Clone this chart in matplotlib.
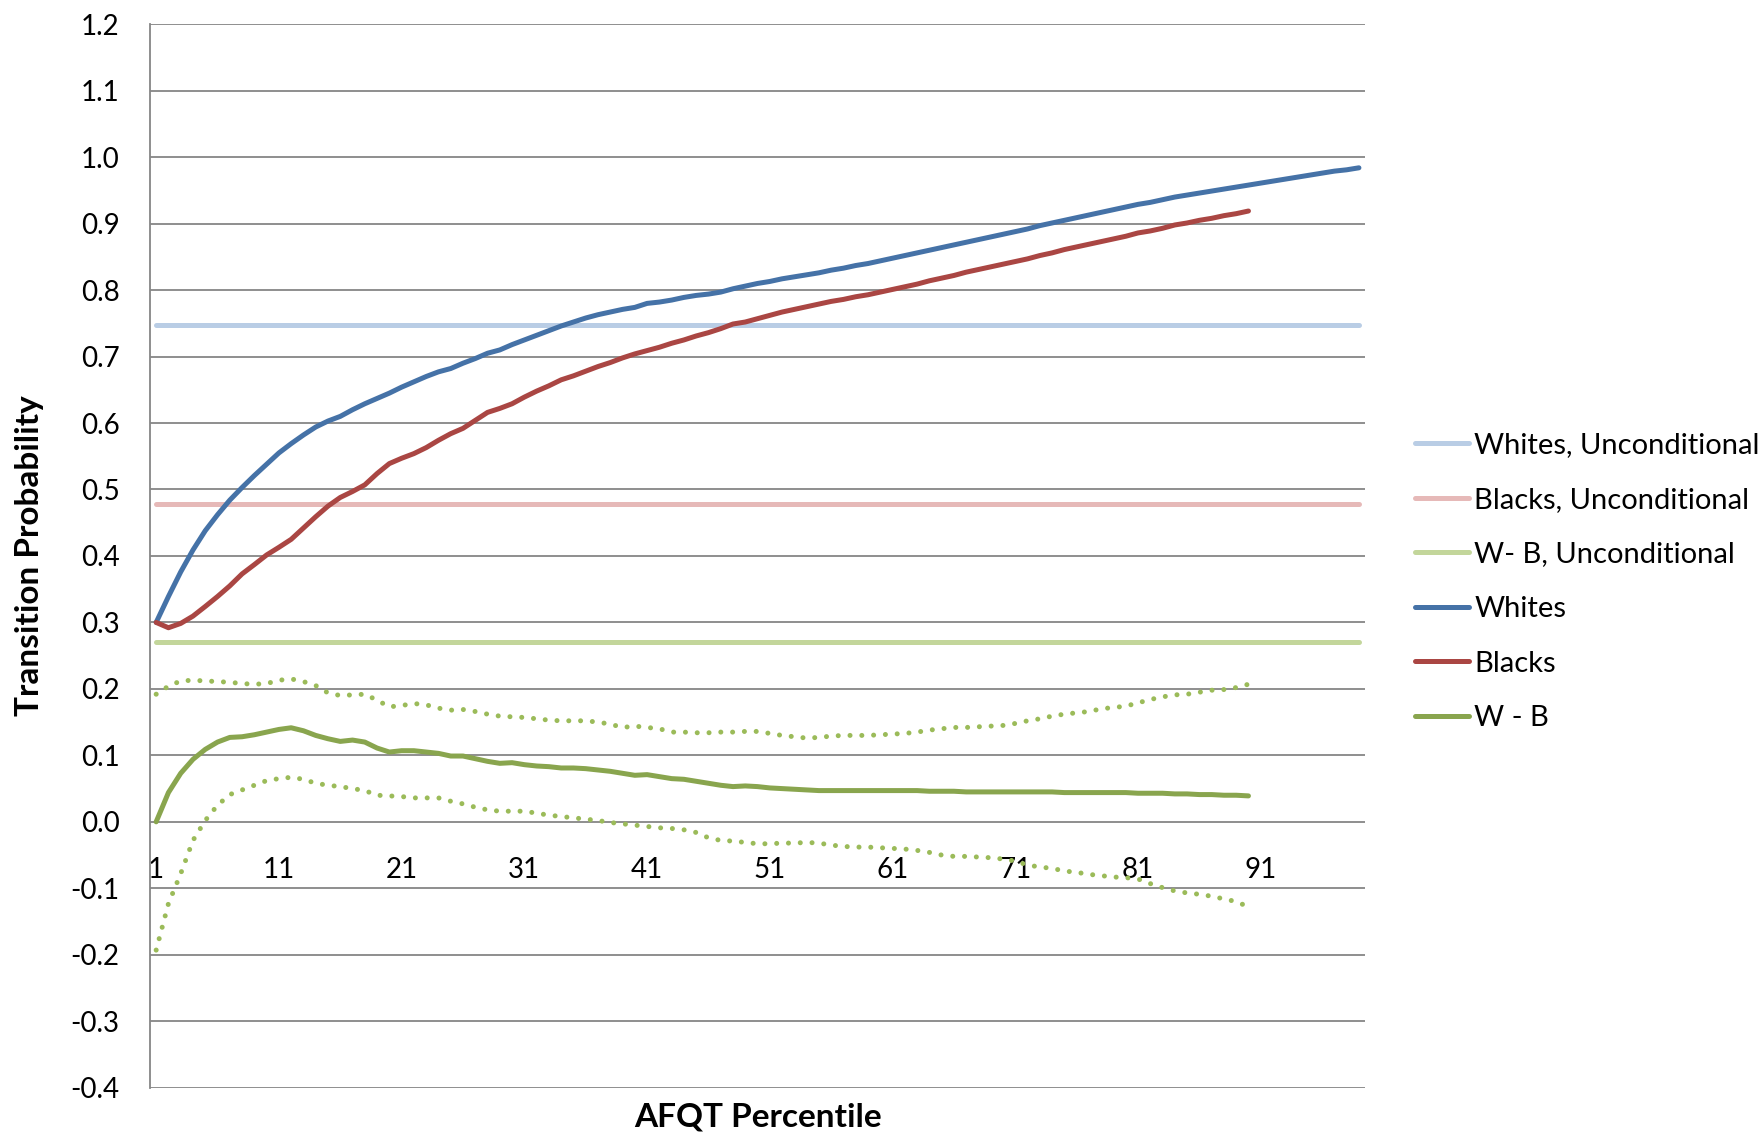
import matplotlib
matplotlib.use("Agg")
import matplotlib.pyplot as plt

plt.rcParams['font.family'] = ['Lato', 'DejaVu Sans']

# AFQT percentile categories (1..99)
percentile = list(range(1, 100))
tick_labels = [1, 11, 21, 31, 41, 51, 61, 71, 81, 91]

# Unconditional transition probabilities
whites_uncond = 0.748
blacks_uncond = 0.478
gap_uncond = 0.270

# Conditional transition probability, whites (percentiles 1..99)
whites = [
    0.300, 0.339, 0.376, 0.409, 0.438, 0.462, 0.484, 0.503, 0.521, 0.538,
    0.555, 0.569, 0.582, 0.594, 0.603, 0.610, 0.620, 0.629, 0.637, 0.645,
    0.654, 0.662, 0.670, 0.677, 0.682, 0.690, 0.697, 0.705, 0.710, 0.718,
    0.725, 0.732, 0.739, 0.746, 0.752, 0.758, 0.763, 0.767, 0.771, 0.774,
    0.780, 0.782, 0.785, 0.789, 0.792, 0.794, 0.797, 0.802, 0.806, 0.810,
    0.813, 0.817, 0.820, 0.823, 0.826, 0.830, 0.833, 0.837, 0.840, 0.844,
    0.848, 0.852, 0.856, 0.860, 0.864, 0.868, 0.872, 0.876, 0.880, 0.884,
    0.888, 0.892, 0.897, 0.901, 0.905, 0.909, 0.913, 0.917, 0.921, 0.925,
    0.929, 0.932, 0.936, 0.940, 0.943, 0.946, 0.949, 0.952, 0.955, 0.958,
    0.961, 0.964, 0.967, 0.970, 0.973, 0.976, 0.979, 0.981, 0.984,
]

# Conditional transition probability, blacks (percentiles 1..90)
blacks = [
    0.300, 0.292, 0.2985, 0.3095, 0.324, 0.339, 0.355, 0.373, 0.387, 0.4015,
    0.413, 0.425, 0.442, 0.459, 0.475, 0.488, 0.497, 0.507, 0.524, 0.539,
    0.547, 0.554, 0.563, 0.574, 0.584, 0.592, 0.604, 0.616, 0.622, 0.629,
    0.639, 0.648, 0.656, 0.665, 0.671, 0.678, 0.685, 0.691, 0.698, 0.704,
    0.709, 0.714, 0.720, 0.725, 0.731, 0.736, 0.742, 0.749, 0.752, 0.757,
    0.762, 0.767, 0.771, 0.775, 0.779, 0.783, 0.786, 0.790, 0.793, 0.797,
    0.801, 0.805, 0.809, 0.814, 0.818, 0.822, 0.827, 0.831, 0.835, 0.839,
    0.843, 0.847, 0.852, 0.856, 0.861, 0.865, 0.869, 0.873, 0.877, 0.881,
    0.886, 0.889, 0.893, 0.898, 0.901, 0.905, 0.908, 0.912, 0.915, 0.919,
]

# White - black difference with confidence band (percentiles 1..90)
gap = [
    0.000, 0.044, 0.073, 0.094, 0.109, 0.120, 0.127, 0.128, 0.131, 0.135,
    0.139, 0.1415, 0.137, 0.130, 0.125, 0.121, 0.123, 0.120, 0.111, 0.105,
    0.107, 0.107, 0.105, 0.103, 0.099, 0.099, 0.095, 0.091, 0.088, 0.089,
    0.086, 0.084, 0.083, 0.081, 0.081, 0.080, 0.078, 0.076, 0.073, 0.070,
    0.071, 0.068, 0.065, 0.064, 0.061, 0.058, 0.055, 0.053, 0.054, 0.053,
    0.051, 0.050, 0.049, 0.048, 0.047, 0.047, 0.047, 0.047, 0.047, 0.047,
    0.047, 0.047, 0.047, 0.046, 0.046, 0.046, 0.045, 0.045, 0.045, 0.045,
    0.045, 0.045, 0.045, 0.045, 0.044, 0.044, 0.044, 0.044, 0.044, 0.044,
    0.043, 0.043, 0.043, 0.042, 0.042, 0.041, 0.041, 0.040, 0.040, 0.039,
]
gap_upper = [
    0.192, 0.204, 0.212, 0.213, 0.212, 0.211, 0.210, 0.208, 0.207, 0.208,
    0.213, 0.215, 0.211, 0.205, 0.194, 0.190, 0.191, 0.192, 0.183, 0.173,
    0.175, 0.178, 0.176, 0.171, 0.168, 0.169, 0.166, 0.162, 0.159, 0.158,
    0.157, 0.155, 0.153, 0.152, 0.152, 0.152, 0.150, 0.147, 0.142, 0.144,
    0.142, 0.140, 0.135, 0.135, 0.134, 0.134, 0.135, 0.135, 0.136, 0.136,
    0.133, 0.130, 0.128, 0.126, 0.127, 0.129, 0.130, 0.130, 0.130, 0.131,
    0.132, 0.133, 0.135, 0.138, 0.140, 0.142, 0.142, 0.143, 0.144, 0.145,
    0.148, 0.152, 0.155, 0.159, 0.162, 0.164, 0.166, 0.170, 0.172, 0.174,
    0.179, 0.184, 0.188, 0.191, 0.192, 0.195, 0.198, 0.199, 0.202, 0.207,
]
gap_lower = [
    -0.193, -0.123, -0.078, -0.028, 0.002, 0.025, 0.041, 0.048, 0.055, 0.062,
    0.065, 0.067, 0.064, 0.058, 0.055, 0.053, 0.050, 0.047, 0.040, 0.039,
    0.038, 0.036, 0.036, 0.036, 0.031, 0.027, 0.022, 0.018, 0.016, 0.016,
    0.016, 0.013, 0.010, 0.008, 0.006, 0.004, 0.002, -0.001, -0.003, -0.005,
    -0.007, -0.009, -0.010, -0.012, -0.016, -0.024, -0.028, -0.029, -0.031, -0.033,
    -0.033, -0.032, -0.032, -0.031, -0.032, -0.035, -0.037, -0.038, -0.038, -0.039,
    -0.040, -0.041, -0.043, -0.046, -0.050, -0.052, -0.052, -0.053, -0.054, -0.056,
    -0.059, -0.065, -0.068, -0.070, -0.074, -0.076, -0.079, -0.081, -0.083, -0.084,
    -0.086, -0.093, -0.099, -0.104, -0.107, -0.109, -0.112, -0.116, -0.120, -0.128,
]

C_WHITE_U = '#B9CDE5'
C_BLACK_U = '#E6B9B8'
C_GAP_U = '#C3D69B'
C_WHITE = '#4572A7'
C_BLACK = '#AA4643'
C_GAP = '#89A54E'
C_BAND = '#9BBB59'

fig = plt.figure(figsize=(17.65, 11.33), dpi=100)
ax = fig.add_axes([0.085, 0.040, 0.6884, 0.9386])

lw = 3.6
common = dict(lw=lw, solid_capstyle='round', solid_joinstyle='round')
n_w = len(whites)
n_b = len(blacks)
x_w = percentile[:n_w]
x_b = percentile[:n_b]

ax.plot(percentile, [whites_uncond] * len(percentile), color=C_WHITE_U,
        label='Whites, Unconditional', zorder=3, **common)
ax.plot(percentile, [blacks_uncond] * len(percentile), color=C_BLACK_U,
        label='Blacks, Unconditional', zorder=3, **common)
ax.plot(percentile, [gap_uncond] * len(percentile), color=C_GAP_U,
        label='W- B, Unconditional', zorder=3, **common)
ax.plot(x_w, whites, color=C_WHITE, label='Whites', zorder=4, **common)
ax.plot(x_b, blacks, color=C_BLACK, label='Blacks', zorder=4, **common)
ax.plot(x_b, gap, color=C_GAP, label='W - B', zorder=4, **common)
for band in (gap_upper, gap_lower):
    ax.plot(x_b, band, color=C_BAND, lw=lw, linestyle=(0, (0.01, 2.35)),
            dash_capstyle='round', zorder=4)

ax.set_xlim(0.5, 99.5)
ax.set_ylim(-0.4, 1.2)
ax.set_yticks([round(-0.4 + 0.1 * i, 1) for i in range(17)])
ax.yaxis.set_major_formatter(matplotlib.ticker.FormatStrFormatter('%.1f'))
ax.set_xticks(tick_labels)
ax.set_xticklabels([str(t) for t in tick_labels])

ax.grid(axis='y', color='#868686', lw=1.3, zorder=1)
ax.grid(axis='x', visible=False)
for side in ('top', 'right'):
    ax.spines[side].set_visible(False)
ax.spines['left'].set_color('#868686')
ax.spines['left'].set_linewidth(1.3)
ax.spines['bottom'].set_position(('data', 0))
ax.spines['bottom'].set_visible(False)
ax.tick_params(axis='both', length=0, labelsize=20, colors='black')
ax.tick_params(axis='y', pad=22)
ax.tick_params(axis='x', pad=25.5)

ax.set_xlabel('AFQT Percentile', fontsize=24, fontweight='bold')
ax.xaxis.set_label_coords(0.5, -0.028)
ax.xaxis.label.set_verticalalignment('center')
ax.set_ylabel('Transition Probability', fontsize=24, fontweight='bold')
ax.yaxis.set_label_coords(-0.0988, 0.5)
ax.yaxis.label.set_verticalalignment('center')

fig.legend(loc='center left', bbox_to_anchor=(0.8017, 0.4865), frameon=False,
           fontsize=21, handlelength=1.85, handletextpad=0.18,
           labelspacing=0.98, borderpad=0, borderaxespad=0)

fig.savefig('out.png', dpi=100)
